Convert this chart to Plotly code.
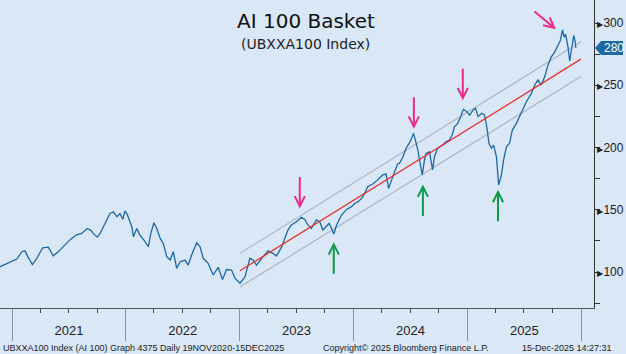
import plotly.graph_objects as go

# ---- data ----
dates = [
    "2020-11-19", "2020-12-24", "2021-01-16", "2021-02-01", "2021-02-11", "2021-02-21", "2021-03-07", "2021-03-21",
    "2021-04-09", "2021-04-27", "2021-05-13", "2021-05-28", "2021-06-20", "2021-07-06", "2021-07-25", "2021-08-12",
    "2021-08-30", "2021-09-10", "2021-09-18", "2021-10-01", "2021-10-10", "2021-10-26", "2021-11-11", "2021-11-22",
    "2021-12-03", "2021-12-13", "2021-12-22", "2021-12-29", "2022-01-06", "2022-01-20", "2022-01-25", "2022-02-05",
    "2022-02-15", "2022-02-28", "2022-03-14", "2022-03-22", "2022-04-01", "2022-04-10", "2022-04-21", "2022-05-01",
    "2022-05-12", "2022-05-23", "2022-06-02", "2022-06-13", "2022-06-24", "2022-07-10", "2022-07-20", "2022-07-31",
    "2022-08-16", "2022-08-27", "2022-09-06", "2022-09-22", "2022-10-08", "2022-10-24", "2022-11-07", "2022-11-20",
    "2022-12-06", "2022-12-17", "2023-01-02", "2023-01-18", "2023-02-03", "2023-02-13", "2023-02-24", "2023-03-17",
    "2023-04-02", "2023-04-18", "2023-04-29", "2023-05-15", "2023-05-26", "2023-06-05", "2023-06-16", "2023-07-02",
    "2023-07-18", "2023-07-29", "2023-08-08", "2023-08-19", "2023-09-04", "2023-09-15", "2023-09-25", "2023-10-06",
    "2023-10-15", "2023-10-23", "2023-10-30", "2023-11-08", "2023-11-24", "2023-12-10", "2023-12-26", "2024-01-05",
    "2024-01-16", "2024-01-27", "2024-02-06", "2024-02-16", "2024-03-03", "2024-03-19", "2024-04-04", "2024-04-15",
    "2024-04-23", "2024-05-04", "2024-05-12", "2024-05-22", "2024-05-28", "2024-06-08", "2024-06-18", "2024-07-01",
    "2024-07-12", "2024-07-18", "2024-07-26", "2024-07-31", "2024-08-09", "2024-08-16", "2024-08-21", "2024-09-01",
    "2024-09-06", "2024-09-11", "2024-09-17", "2024-09-27", "2024-10-13", "2024-10-24", "2024-11-04", "2024-11-13",
    "2024-11-20", "2024-12-01", "2024-12-12", "2024-12-19", "2024-12-30", "2025-01-08", "2025-01-19", "2025-01-27",
    "2025-02-04", "2025-02-15", "2025-02-25", "2025-03-04", "2025-03-11", "2025-03-19", "2025-03-26", "2025-04-04",
    "2025-04-11", "2025-04-20", "2025-04-27", "2025-05-06", "2025-05-16", "2025-05-25", "2025-06-07", "2025-06-23",
    "2025-07-09", "2025-07-25", "2025-08-05", "2025-08-15", "2025-08-26", "2025-09-06", "2025-09-16", "2025-09-27",
    "2025-10-08", "2025-10-18", "2025-10-26", "2025-11-02", "2025-11-07", "2025-11-12", "2025-11-20", "2025-11-25",
    "2025-12-02", "2025-12-08", "2025-12-11", "2025-12-15",
]
values = [
    103.8, 108.0, 110.4, 116.3, 117.0, 112.0, 106.0, 111.0,
    119.5, 120.0, 113.0, 116.0, 121.7, 126.0, 129.7, 131.0,
    135.0, 133.7, 131.0, 128.0, 131.0, 139.0, 147.0, 148.4,
    144.4, 147.0, 142.3, 149.0, 145.8, 136.4, 128.4, 135.0,
    129.7, 125.7, 120.3, 131.0, 139.6, 135.0, 127.0, 123.0,
    112.3, 109.6, 116.3, 103.0, 108.3, 109.6, 105.6, 113.7,
    123.5, 120.3, 111.0, 107.0, 97.6, 103.8, 94.0, 102.0,
    101.6, 95.0, 91.0, 96.0, 111.0, 109.6, 105.6, 112.3,
    117.0, 115.0, 112.8, 119.8, 127.0, 133.7, 137.8, 140.4,
    144.0, 142.3, 137.8, 135.0, 141.8, 140.4, 133.7, 136.4,
    139.0, 135.0, 130.5, 137.8, 145.8, 150.3, 152.5, 155.0,
    156.5, 159.0, 163.0, 168.5, 170.7, 174.0, 178.0, 178.7,
    167.0, 175.0, 180.6, 187.0, 187.3, 192.6, 199.4, 204.7,
    211.4, 206.0, 198.0, 190.0, 178.0, 190.0, 195.3, 196.7,
    190.0, 182.0, 192.6, 199.4, 202.0, 204.7, 206.0, 210.0,
    216.7, 219.4, 226.0, 230.7, 228.8, 226.0, 230.0, 231.5,
    224.8, 227.5, 226.0, 216.7, 203.4, 199.4, 202.0, 192.6,
    170.0, 178.0, 190.0, 200.6, 203.4, 214.0, 219.4, 227.5,
    236.8, 243.5, 250.2, 254.2, 250.2, 257.0, 266.0, 272.8,
    276.8, 282.0, 286.0, 294.5, 288.6, 291.0, 280.0, 269.5,
    280.0, 290.0, 287.0, 280.0,
]

channel_dates = ["2023-01-02", "2025-12-31"]
trend_vals = [101, 271]
upper_vals = [115, 285]
lower_vals = [88, 257]

pink_dates = ["2023-07-13", "2024-07-13", "2024-12-17"]
pink_vals = [151, 215, 238]
pink_diag_date = "2025-10-12"
pink_diag_val = 295
green_dates = ["2023-10-30", "2024-08-11", "2025-04-09"]
green_vals = [124, 170.3, 166]

y_ticks = [100, 150, 200, 250, 300]
last_value = 280

title = "AI 100 Basket"
subtitle = "(UBXXA100 Index)"
footer_left = "UBXXA100 Index (AI 100) Graph 4375 Daily 19NOV2020-15DEC2025"
footer_mid = "Copyright\u00a9 2025 Bloomberg Finance L.P."
footer_right = "15-Dec-2025 14:27:31"

# ---- styling ----
BG = "#d9e7f7"
LINE = "#1b6aa5"
PINK = "#ec2a8c"
GREEN = "#109a48"
FONT = "Liberation Sans"

fig = go.Figure()
fig.add_trace(go.Scatter(x=channel_dates, y=upper_vals, mode="lines",
                         line=dict(color="#aeb7c1", width=1.2), hoverinfo="skip"))
fig.add_trace(go.Scatter(x=channel_dates, y=lower_vals, mode="lines",
                         line=dict(color="#aeb7c1", width=1.2), hoverinfo="skip"))
fig.add_trace(go.Scatter(x=dates, y=values, mode="lines",
                         line=dict(color=LINE, width=1.3)))
fig.add_trace(go.Scatter(x=channel_dates, y=trend_vals, mode="lines",
                         line=dict(color="#e8302c", width=1.3), hoverinfo="skip"))

ann = []
for d, v in zip(pink_dates, pink_vals):
    ann.append(dict(x=d, y=v, xref="x", yref="y", ax=0, ay=-33, showarrow=True,
                    arrowcolor=PINK, arrowwidth=2, arrowhead=5, arrowsize=1.0, text=""))
ann.append(dict(x=pink_diag_date, y=pink_diag_val, xref="x", yref="y", ax=-23, ay=-19,
                showarrow=True, arrowcolor=PINK, arrowwidth=2, arrowhead=5, arrowsize=1.0, text=""))
for d, v in zip(green_dates, green_vals):
    ann.append(dict(x=d, y=v, xref="x", yref="y", ax=0, ay=33, showarrow=True,
                    arrowcolor=GREEN, arrowwidth=2, arrowhead=5, arrowsize=1.0, text=""))

ann.append(dict(x=0.515, y=0.932, xref="paper", yref="paper", text=title, showarrow=False,
                font=dict(family="DejaVu Sans", size=20, color="#111"), yanchor="middle"))
ann.append(dict(x=0.515, y=0.857, xref="paper", yref="paper", text=subtitle, showarrow=False,
                font=dict(family="DejaVu Sans", size=14, color="#222"), yanchor="middle"))

ann.append(dict(x=0.0, y=-0.13, xref="paper", yref="paper", text=footer_left, showarrow=False,
                xanchor="left", xshift=1, yanchor="middle", font=dict(family=FONT, size=9, color="#222")))
ann.append(dict(x=0.684, y=-0.13, xref="paper", yref="paper", text=footer_mid, showarrow=False,
                xanchor="center", yanchor="middle", font=dict(family=FONT, size=9, color="#222")))
ann.append(dict(x=1.034, y=-0.13, xref="paper", yref="paper", text=footer_right, showarrow=False,
                xanchor="right", yanchor="middle", font=dict(family=FONT, size=9, color="#222")))

# last value tag
ann.append(dict(x=1, y=last_value, xref="paper", yref="y", text=str(last_value), showarrow=False,
                xanchor="left", xshift=8, yanchor="middle",
                font=dict(family=FONT, size=12, color="white")))

shapes = [dict(type="path", xref="paper", yref="y", xsizemode="pixel", ysizemode="pixel",
               xanchor=1, yanchor=last_value,
               path="M1,0 L7,7 L29,7 L29,-7 L7,-7 Z",
               fillcolor="#1b6aa5", line=dict(width=0), layer="above")]

fig.update_layout(
    width=626, height=354,
    margin=dict(l=0, r=32, t=0, b=46),
    paper_bgcolor=BG, plot_bgcolor=BG,
    showlegend=False,
    annotations=ann, shapes=shapes,
    font=dict(family=FONT, size=12, color="#222"),
)

fig.update_xaxes(
    type="date", range=["2020-11-23", "2026-02-11"],
    showgrid=False, zeroline=False,
    showline=True, linecolor="#555", linewidth=1,
    tick0="2021-01-01", dtick="M12", ticklabelmode="period", tickformat="%Y",
    ticks="outside", ticklen=32, tickcolor="#8a96a3", tickwidth=1,
    ticklabelstandoff=-22,
    tickfont=dict(family=FONT, size=13, color="#222"),
    minor=dict(tick0="2021-01-01", dtick="M3", ticks="outside", ticklen=4, tickcolor="#444", showgrid=False),
)

fig.update_yaxes(
    side="right", range=[71.1, 318.5],
    showgrid=False, zeroline=False,
    showline=True, linecolor="#333", linewidth=1,
    tickvals=y_ticks,
    ticktext=['<span style="font-size:8px">\u25b6</span>' + str(v) for v in y_ticks],
    ticks="", ticklabelstandoff=0,
    tickfont=dict(family=FONT, size=12, color="#222"),
    minor=dict(dtick=25, tick0=0, ticks="outside", ticklen=5, tickcolor="#333", showgrid=False),
)

fig.write_html("out.html")
